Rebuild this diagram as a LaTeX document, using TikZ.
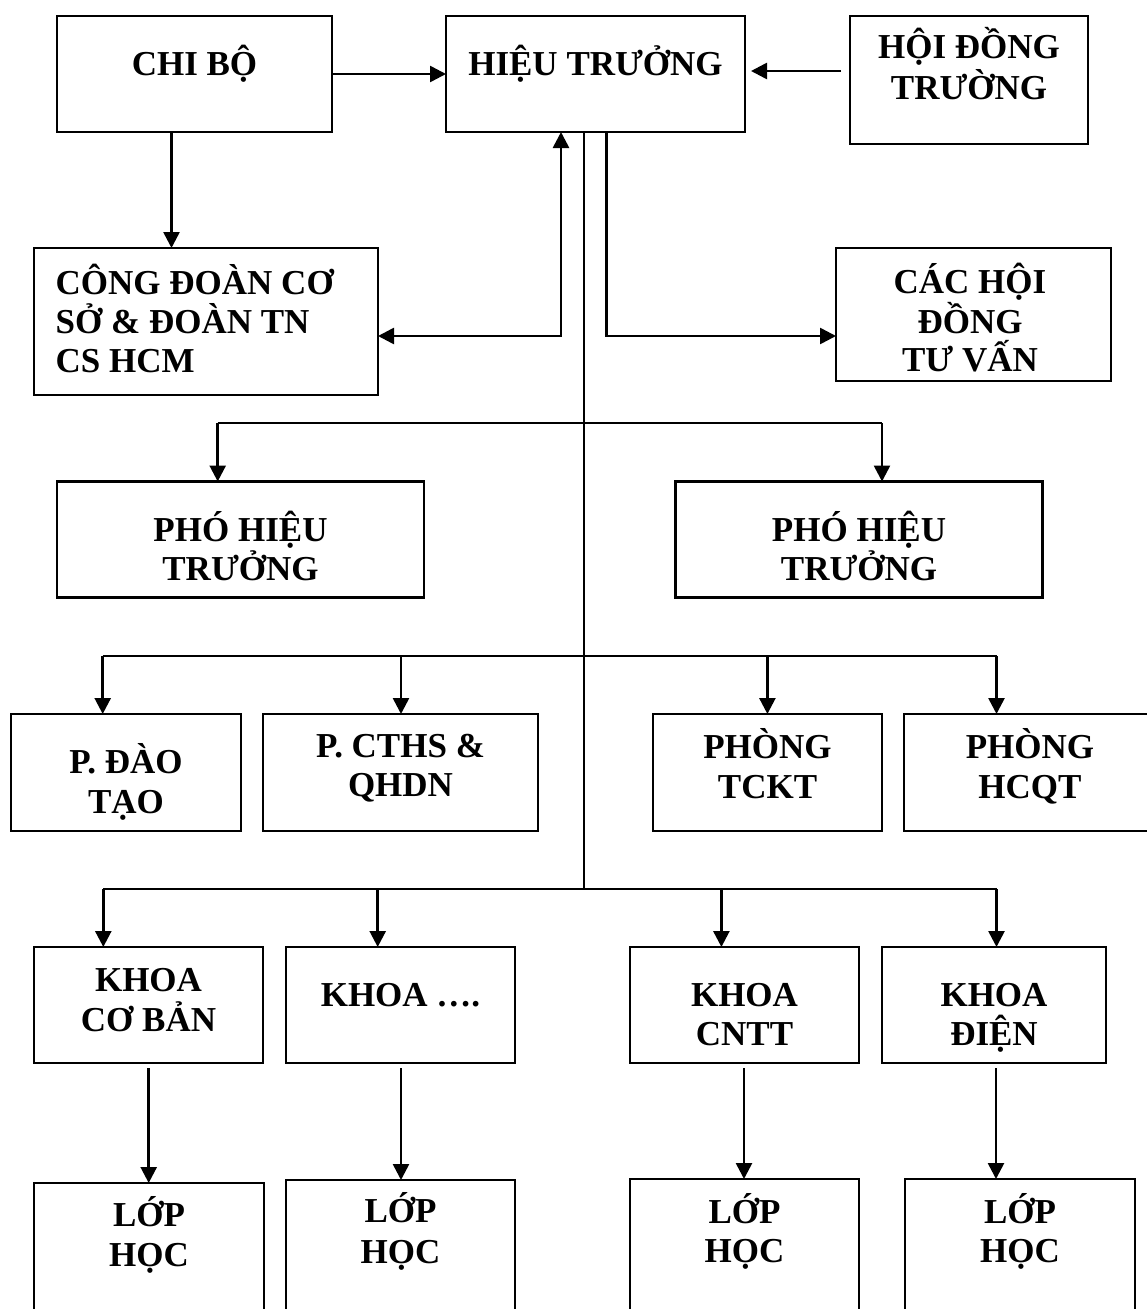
\documentclass[tikz,border=0pt]{standalone}
\usepackage{fontspec}
\setmainfont{Liberation Serif}
\usetikzlibrary{arrows.meta,calc}
\begin{document}
\begin{tikzpicture}[x=1pt,y=-1pt,
  box/.style={draw,line width=2.2pt,inner sep=0pt,outer sep=0pt},
  txt/.style={anchor=base,inner sep=0pt,font=\fontsize{35}{40}\selectfont\bfseries},
  ltxt/.style={txt,anchor=base west},
  arr/.style={line width=2.6pt,-{Triangle[length=16pt,width=16pt]}},
  dbl/.style={line width=2.6pt,{Triangle[length=16pt,width=16pt]}-{Triangle[length=16pt,width=16pt]}},
  hl/.style={line width=2.3pt},
  trunk/.style={line width=1.5pt}]
\useasboundingbox (0,0) rectangle (1146,1309);
\fill[white] (0,0) rectangle (1146,1309);
% boxes
\node[box,minimum width=275pt,minimum height=116pt] (chi) at (194.5,74) {};
\node[box,minimum width=299pt,minimum height=116pt] (hieu) at (595.5,74) {};
\node[box,minimum width=238pt,minimum height=128pt] (hoi) at (969,80) {};
\node[box,minimum width=344pt,minimum height=147pt] (cd) at (206,321.5) {};
\node[box,minimum width=275pt,minimum height=133pt] (cac) at (973.5,314.5) {};
\node[box,minimum width=367pt,minimum height=116pt] (pho1) at (240.5,539.5) {};
\node[box,minimum width=367pt,minimum height=116pt] (pho2) at (859,539.5) {};
\node[box,minimum width=230pt,minimum height=117pt] (pdt) at (126,772.5) {};
\node[box,minimum width=275pt,minimum height=117pt] (pct) at (400.5,772.5) {};
\node[box,minimum width=229pt,minimum height=117pt] (ptc) at (767.5,772.5) {};
\node[box,minimum width=252pt,minimum height=117pt] (phc) at (1030,772.5) {};
\node[box,minimum width=229pt,minimum height=116pt] (k1) at (148.5,1005) {};
\node[box,minimum width=229pt,minimum height=116pt] (k2) at (400.5,1005) {};
\node[box,minimum width=229pt,minimum height=116pt] (k3) at (744.5,1005) {};
\node[box,minimum width=224pt,minimum height=116pt] (k4) at (994,1005) {};
\node[box,minimum width=230pt,minimum height=157pt] (l1) at (149,1261.5) {};
\node[box,minimum width=229pt,minimum height=160pt] (l2) at (400.5,1260) {};
\node[box,minimum width=229pt,minimum height=161pt] (l3) at (744.5,1259.5) {};
\node[box,minimum width=230pt,minimum height=161pt] (l4) at (1020,1259.5) {};
% texts
\node[txt] (chi-a) at (194.5,75) {CHI BỘ};
\node[txt] (hieu-a) at (595.5,75) {HIỆU TRƯỞNG};
\node[txt] (hoi-a) at (969,58.3) {HỘI ĐỒNG};
\node[txt] (hoi-b) at (969,99.3) {TRƯỜNG};
\node[ltxt] (cd-a) at (55.5,294) {CÔNG ĐOÀN CƠ};
\node[ltxt] (cd-b) at (55.5,333) {SỞ \& ĐOÀN TN};
\node[ltxt] (cd-c) at (55.5,372) {CS HCM};
\node[txt] (cac-a) at (970,293) {CÁC HỘI};
\node[txt] (cac-b) at (970,333) {ĐỒNG};
\node[txt] (cac-c) at (970,371) {TƯ VẤN};
\node[txt] (pho1-a) at (240.5,541) {PHÓ HIỆU};
\node[txt] (pho1-b) at (240.5,580) {TRƯỞNG};
\node[txt] (pho2-a) at (859,541) {PHÓ HIỆU};
\node[txt] (pho2-b) at (859,580) {TRƯỞNG};
\node[txt] (pdt-a) at (126,773.3) {P. ĐÀO};
\node[txt] (pdt-b) at (126,813.3) {TẠO};
\node[txt] (pct-a) at (400.5,757.3) {P. CTHS \&};
\node[txt] (pct-b) at (400.5,796.7) {QHDN};
\node[txt] (ptc-a) at (767.5,758) {PHÒNG};
\node[txt] (ptc-b) at (767.5,798) {TCKT};
\node[txt] (phc-a) at (1030,758) {PHÒNG};
\node[txt] (phc-b) at (1030,798) {HCQT};
\node[txt] (k1-a) at (148.5,991) {KHOA};
\node[txt] (k1-b) at (148.5,1031.7) {CƠ BẢN};
\node[txt] (k2-a) at (400.5,1006) {KHOA ….};
\node[txt] (k3-a) at (744.5,1006.7) {KHOA};
\node[txt] (k3-b) at (744.5,1045) {CNTT};
\node[txt] (k4-a) at (994,1006.7) {KHOA};
\node[txt] (k4-b) at (994,1045) {ĐIỆN};
\node[txt] (l1-a) at (149,1226.7) {LỚP};
\node[txt] (l1-b) at (149,1266.7) {HỌC};
\node[txt] (l2-a) at (400.5,1222.7) {LỚP};
\node[txt] (l2-b) at (400.5,1263) {HỌC};
\node[txt] (l3-a) at (744.5,1223.3) {LỚP};
\node[txt] (l3-b) at (744.5,1262.7) {HỌC};
\node[txt] (l4-a) at (1020,1223.3) {LỚP};
\node[txt] (l4-b) at (1020,1262.7) {HỌC};
% junction coordinates
\coordinate (hs) at ([xshift=-9pt,yshift=9pt]hoi.west);
\coordinate (cs) at ([xshift=-23pt]chi.south);
\coordinate (j1) at (561,336);
\coordinate (j2) at (606.7,336);
\coordinate (j3) at (584,889);
\coordinate (a1) at (217.7,423.3);
\coordinate (a2) at (882,423.3);
\coordinate (b1) at (102.7,656);
\coordinate (b2) at (401,656);
\coordinate (b3) at (767.4,656);
\coordinate (b4) at (996.5,656);
\coordinate (c1) at (103.3,889);
\coordinate (c2) at (377.7,889);
\coordinate (c3) at (721.4,889);
\coordinate (c4) at (996.5,889);
\coordinate (d1) at (148.7,1068);
\coordinate (d2) at (401,1068);
\coordinate (d3) at (744,1068);
\coordinate (d4) at (996,1068);
% connectors
\draw[arr] (chi.east) -- (hieu.west);
\draw[arr] (hs) -- ([xshift=6pt]hs -| hieu.east);
\draw[arr] (cs) -- (cs |- cd.north);
\draw[dbl] (hieu.south -| j1) -- (j1) -- (cd.east |- j1);
\draw[arr] (hieu.south -| j2) -- (j2) -- (cac.west |- j2);
\draw[trunk] (hieu.south -| j3) -- (j3);
\draw[hl] (a1) -- (a2);
\draw[arr] (a1) -- (a1 |- pho1.north);
\draw[arr] (a2) -- (a2 |- pho2.north);
\draw[hl] (b1) -- (b4);
\draw[arr] (b1) -- (b1 |- pdt.north);
\draw[arr] (b2) -- (b2 |- pct.north);
\draw[arr] (b3) -- (b3 |- ptc.north);
\draw[arr] (b4) -- (b4 |- phc.north);
\draw[hl] (c1) -- (c4);
\draw[arr] (c1) -- (c1 |- k1.north);
\draw[arr] (c2) -- (c2 |- k2.north);
\draw[arr] (c3) -- (c3 |- k3.north);
\draw[arr] (c4) -- (c4 |- k4.north);
\draw[arr] (d1) -- (d1 |- l1.north);
\draw[arr] (d2) -- (d2 |- l2.north);
\draw[arr] (d3) -- (d3 |- l3.north);
\draw[arr] (d4) -- (d4 |- l4.north);
\end{tikzpicture}
\end{document}
